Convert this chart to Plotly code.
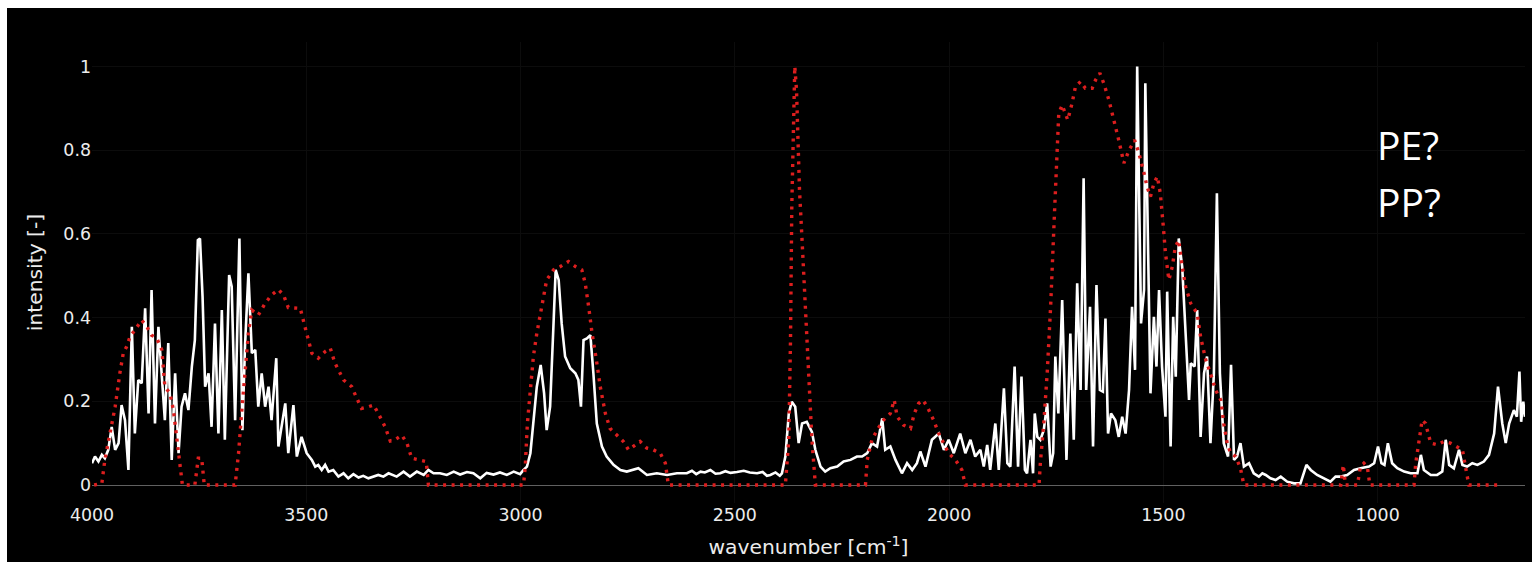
import plotly.graph_objects as go

# Measured sample spectrum (white, solid)
sample_wn = [
    4000, 3993, 3985, 3977, 3970, 3962, 3954, 3946, 3938, 3931, 3923, 3915, 3907, 3900,
    3892, 3884, 3876, 3868, 3861, 3853, 3845, 3837, 3830, 3822, 3814, 3806, 3798, 3791,
    3783, 3775, 3767, 3760, 3753, 3748, 3742, 3736, 3728, 3721, 3713, 3705, 3697, 3690,
    3680, 3674, 3666, 3656, 3649, 3643, 3635, 3627, 3619, 3612, 3604, 3596, 3588, 3581,
    3570, 3565, 3557, 3549, 3542, 3530, 3522, 3511, 3499, 3487, 3479, 3472, 3464, 3456,
    3448, 3437, 3425, 3413, 3402, 3390, 3378, 3367, 3355, 3343, 3332, 3320, 3308,
    3289, 3273, 3258, 3242, 3226, 3215, 3203, 3188, 3172, 3156, 3141, 3125, 3110, 3094,
    3079, 3063, 3048, 3032, 3016, 3001, 2993, 2985, 2977, 2970, 2962, 2953, 2945, 2939,
    2931, 2923, 2918, 2911, 2904, 2896, 2884, 2872, 2865, 2859, 2853, 2845, 2837, 2830,
    2822, 2810, 2799, 2783, 2767, 2752, 2725, 2705, 2682, 2658, 2635, 2612,
    2600, 2590, 2580, 2570, 2557, 2545, 2534, 2522, 2510, 2495, 2479, 2465, 2448, 2435,
    2425, 2417, 2405, 2395, 2390, 2382, 2374, 2367, 2359, 2351, 2343,
    2332, 2320, 2312, 2300, 2289, 2277, 2261, 2246, 2230, 2215, 2203, 2191, 2180, 2168,
    2156, 2149, 2137, 2125, 2110, 2098, 2086, 2075, 2067, 2055, 2040, 2024, 2012, 2001,
    1989, 1974, 1962, 1950, 1939, 1927, 1919, 1911, 1904,
    1892, 1884, 1872, 1864, 1857, 1847, 1839, 1831, 1823, 1818, 1810, 1804, 1800, 1794,
    1787, 1779, 1771, 1763, 1757, 1752, 1745, 1736, 1726, 1717, 1709, 1701, 1693, 1686,
    1680, 1671, 1664, 1656, 1648, 1641, 1635, 1629, 1622, 1612, 1604, 1596, 1588, 1580,
    1573, 1566, 1561, 1552, 1545, 1542, 1534, 1530, 1522, 1516, 1510, 1503, 1495, 1491,
    1483, 1477, 1471, 1464, 1456, 1448, 1440, 1436, 1427, 1421, 1413, 1405, 1398, 1390,
    1382, 1375, 1368, 1359, 1349, 1342, 1335, 1328, 1320, 1312, 1300, 1289,
    1277, 1269, 1261, 1250, 1238, 1226, 1211, 1195, 1180, 1166, 1156, 1141, 1125, 1110,
    1098, 1086, 1071, 1055, 1040, 1020, 1008, 999, 991, 984, 976, 966, 954, 938,
    923, 907, 899, 892, 876, 861, 849, 841, 833, 822, 810, 802, 791, 779,
    767, 752, 740, 728, 719, 709, 701, 693, 682, 675, 669, 665, 660, 656,
]
sample_int = [
    0.052, 0.068, 0.056, 0.072, 0.064, 0.084, 0.139, 0.084, 0.100, 0.191, 0.155, 0.036, 0.378, 0.123,
    0.251, 0.243, 0.422, 0.171, 0.466, 0.147, 0.378, 0.251, 0.155, 0.339, 0.060, 0.267, 0.076, 0.187,
    0.219, 0.179, 0.283, 0.346, 0.585, 0.589, 0.450, 0.235, 0.267, 0.139, 0.386, 0.123, 0.418, 0.108,
    0.502, 0.474, 0.155, 0.589, 0.131, 0.331, 0.506, 0.315, 0.323, 0.187, 0.267, 0.187, 0.235, 0.155,
    0.303, 0.092, 0.147, 0.195, 0.076, 0.191, 0.068, 0.115, 0.076, 0.060, 0.044, 0.048, 0.036, 0.048,
    0.032, 0.036, 0.020, 0.028, 0.016, 0.026, 0.018, 0.022, 0.016, 0.020, 0.024, 0.020, 0.028,
    0.020, 0.032, 0.020, 0.032, 0.024, 0.036, 0.028, 0.028, 0.024, 0.032, 0.025, 0.031, 0.028, 0.016,
    0.029, 0.025, 0.030, 0.024, 0.032, 0.026, 0.036, 0.044, 0.076, 0.147, 0.235, 0.287, 0.219, 0.131,
    0.187, 0.386, 0.514, 0.490, 0.386, 0.307, 0.279, 0.267, 0.251, 0.187, 0.346, 0.350, 0.358, 0.267,
    0.147, 0.092, 0.068, 0.048, 0.036, 0.032, 0.040, 0.024, 0.028, 0.024, 0.028, 0.028,
    0.034, 0.026, 0.032, 0.030, 0.036, 0.027, 0.028, 0.033, 0.029, 0.031, 0.034, 0.030, 0.028, 0.031,
    0.022, 0.024, 0.030, 0.022, 0.028, 0.068, 0.171, 0.199, 0.187, 0.100, 0.147,
    0.151, 0.127, 0.084, 0.044, 0.032, 0.040, 0.044, 0.056, 0.060, 0.068, 0.068, 0.076, 0.100, 0.092,
    0.159, 0.084, 0.092, 0.060, 0.028, 0.052, 0.036, 0.052, 0.080, 0.044, 0.108, 0.123, 0.084, 0.108,
    0.076, 0.123, 0.076, 0.108, 0.068, 0.084, 0.044, 0.096, 0.036,
    0.147, 0.036, 0.231, 0.052, 0.044, 0.283, 0.044, 0.259, 0.036, 0.028, 0.108, 0.028, 0.171, 0.115,
    0.108, 0.131, 0.195, 0.044, 0.076, 0.307, 0.171, 0.442, 0.060, 0.362, 0.108, 0.482, 0.227, 0.733,
    0.227, 0.426, 0.092, 0.478, 0.227, 0.223, 0.398, 0.123, 0.171, 0.155, 0.115, 0.163, 0.123, 0.227,
    0.426, 0.275, 1.000, 0.386, 0.466, 0.960, 0.506, 0.219, 0.402, 0.283, 0.466, 0.283, 0.163, 0.462,
    0.092, 0.402, 0.259, 0.589, 0.522, 0.346, 0.203, 0.291, 0.283, 0.418, 0.115, 0.267, 0.307, 0.100,
    0.267, 0.697, 0.267, 0.100, 0.068, 0.287, 0.060, 0.068, 0.100, 0.044, 0.052, 0.028,
    0.020, 0.028, 0.024, 0.016, 0.012, 0.020, 0.008, 0.004, 0.004, 0.048, 0.036, 0.024, 0.016, 0.008,
    0.020, 0.020, 0.024, 0.036, 0.040, 0.044, 0.052, 0.092, 0.052, 0.048, 0.100, 0.052, 0.040, 0.032,
    0.028, 0.028, 0.072, 0.036, 0.024, 0.024, 0.032, 0.108, 0.048, 0.040, 0.084, 0.048, 0.044, 0.052,
    0.048, 0.056, 0.072, 0.123, 0.235, 0.147, 0.100, 0.147, 0.179, 0.163, 0.271, 0.151, 0.199, 0.163,
]

# Library reference spectrum (red, dotted)
ref_wn = [
    3995, 3977, 3970, 3958, 3946, 3935, 3927, 3919, 3911, 3900, 3884, 3872, 3861, 3849,
    3837, 3830, 3818, 3810, 3802, 3795, 3789, 3760, 3752, 3744, 3738, 3666, 3658, 3651,
    3643, 3635, 3627, 3612, 3596, 3581, 3565, 3553, 3542, 3526, 3514, 3503, 3487, 3472,
    3456, 3444, 3433, 3413, 3394, 3382, 3371, 3355, 3343, 3332, 3316, 3304, 3293, 3277,
    3265, 3254, 3238, 3220, 3215, 2993, 2989, 2984, 2977, 2970, 2962, 2950, 2939, 2923,
    2907, 2888, 2872, 2857, 2849, 2841, 2833, 2823, 2814, 2802, 2791, 2775, 2760, 2748,
    2732, 2721, 2705, 2690, 2674, 2662, 2655, 2382, 2374, 2370, 2367, 2363, 2360, 2356,
    2353, 2349, 2343, 2335, 2328, 2320, 2312, 2195, 2191, 2180, 2168, 2153, 2137, 2128,
    2121, 2106, 2090, 2081, 2071, 2061, 2051, 2036, 2024, 2013, 2001, 1985, 1970, 1962,
    1790, 1787, 1779, 1771, 1763, 1755, 1749, 1744, 1736, 1731, 1723, 1713, 1705, 1693,
    1682, 1666, 1658, 1648, 1639, 1627, 1615, 1604, 1592, 1580, 1567, 1557, 1545, 1538,
    1530, 1522, 1514, 1507, 1500, 1495, 1487, 1479, 1472, 1464, 1456, 1448, 1436, 1421,
    1413, 1401, 1390, 1378, 1366, 1359, 1351, 1343, 1331, 1320, 1312, 1086, 1080, 1075,
    1047, 1040, 1032, 1024, 1018, 915, 911, 903, 896, 888, 876, 861, 845, 830,
    814, 802, 795, 787, 720,
]
ref_int = [
    0.000, 0.004, 0.060, 0.123, 0.187, 0.267, 0.315, 0.331, 0.355, 0.370, 0.394, 0.378, 0.358, 0.351,
    0.323, 0.235, 0.219, 0.179, 0.115, 0.060, 0.000, 0.000, 0.064, 0.064, 0.000, 0.000, 0.076, 0.171,
    0.275, 0.363, 0.418, 0.406, 0.434, 0.454, 0.467, 0.454, 0.424, 0.424, 0.422, 0.378, 0.315, 0.303,
    0.319, 0.327, 0.291, 0.251, 0.235, 0.207, 0.183, 0.187, 0.191, 0.171, 0.139, 0.105, 0.108, 0.119,
    0.100, 0.064, 0.060, 0.056, 0.000, 0.000, 0.044, 0.147, 0.227, 0.307, 0.362, 0.434, 0.490, 0.514,
    0.522, 0.534, 0.522, 0.514, 0.482, 0.426, 0.362, 0.299, 0.235, 0.171, 0.135, 0.119, 0.104, 0.084,
    0.096, 0.104, 0.088, 0.084, 0.076, 0.052, 0.000, 0.000, 0.108, 0.346, 0.665, 0.904, 1.000, 0.944,
    0.824, 0.705, 0.585, 0.426, 0.267, 0.108, 0.000, 0.000, 0.060, 0.108, 0.131, 0.155, 0.171, 0.203,
    0.163, 0.143, 0.135, 0.171, 0.195, 0.203, 0.187, 0.155, 0.123, 0.100, 0.076, 0.060, 0.036, 0.000,
    0.000, 0.052, 0.147, 0.267, 0.426, 0.625, 0.785, 0.888, 0.908, 0.892, 0.872, 0.912, 0.952, 0.964,
    0.948, 0.948, 0.968, 0.984, 0.960, 0.920, 0.872, 0.824, 0.769, 0.800, 0.824, 0.793, 0.745, 0.713,
    0.689, 0.721, 0.737, 0.697, 0.617, 0.554, 0.490, 0.522, 0.569, 0.585, 0.522, 0.474, 0.434, 0.410,
    0.354, 0.299, 0.267, 0.227, 0.203, 0.147, 0.100, 0.076, 0.068, 0.040, 0.000, 0.000, 0.048, 0.000,
    0.000, 0.044, 0.052, 0.044, 0.000, 0.000, 0.052, 0.108, 0.155, 0.147, 0.100, 0.096, 0.104, 0.100,
    0.092, 0.084, 0.044, 0.000, 0.000,
]

x_ticks = [4000, 3500, 3000, 2500, 2000, 1500, 1000]
y_ticks = [0, 0.2, 0.4, 0.6, 0.8, 1]
notes = ["PE?", "PP?"]

W, H = 1532, 562
ML, MR, MT, MB = 92, 7, 42, 59
PW, PH = W - ML - MR, H - MT - MB


def px_to_paper_x(px):
    return (px - ML) / PW


def px_to_paper_y(py):
    return (H - MB - py) / PH


fig = go.Figure()
fig.add_trace(go.Scatter(
    x=sample_wn, y=sample_int, mode="lines", name="sample",
    line=dict(color="#ffffff", width=2.6),
))
fig.add_trace(go.Scatter(
    x=ref_wn, y=ref_int, mode="lines", name="reference",
    line=dict(color="#dc1e1e", width=3.4, dash="3px,5.5px"),
))

axis_font = dict(family="Verdana, DejaVu Sans, sans-serif", size=17.4, color="#ececec")
title_font = dict(family="Verdana, DejaVu Sans, sans-serif", size=20.3, color="#ececec")

fig.update_layout(
    width=W, height=H,
    margin=dict(l=ML, r=MR, t=MT, b=MB, pad=0),
    paper_bgcolor="#ffffff",
    plot_bgcolor="#000000",
    showlegend=False,
    xaxis=dict(
        range=[4000, 656], tickvals=x_ticks, ticks="",
        showgrid=True, gridcolor="#0c0c0c", gridwidth=1,
        zeroline=False, showline=False, tickfont=axis_font,
        title=dict(text="wavenumber [cm<sup>-1</sup>]", font=title_font),
        automargin=False,
    ),
    yaxis=dict(
        range=[-0.043, 1.0585], tickvals=y_ticks, ticks="",
        showgrid=True, gridcolor="#0c0c0c", gridwidth=1,
        zeroline=True, zerolinecolor="#606060", zerolinewidth=1.4,
        showline=False, tickfont=axis_font,
        title=dict(text="intensity [-]", font=title_font),
        automargin=False,
    ),
    shapes=[dict(
        type="rect", xref="paper", yref="paper", layer="below",
        x0=px_to_paper_x(7), x1=px_to_paper_x(W + 2),
        y0=px_to_paper_y(H + 2), y1=px_to_paper_y(8),
        fillcolor="#000000", line=dict(width=0),
    )],
)

for label, cy in zip(notes, [144.5, 201.5]):
    fig.add_annotation(
        text=label, xref="paper", yref="paper",
        x=px_to_paper_x(1375), y=px_to_paper_y(cy),
        xanchor="left", yanchor="middle", showarrow=False,
        font=dict(family="Open Sans", size=39, color="#ffffff"),
    )

fig.write_html("out.html")
